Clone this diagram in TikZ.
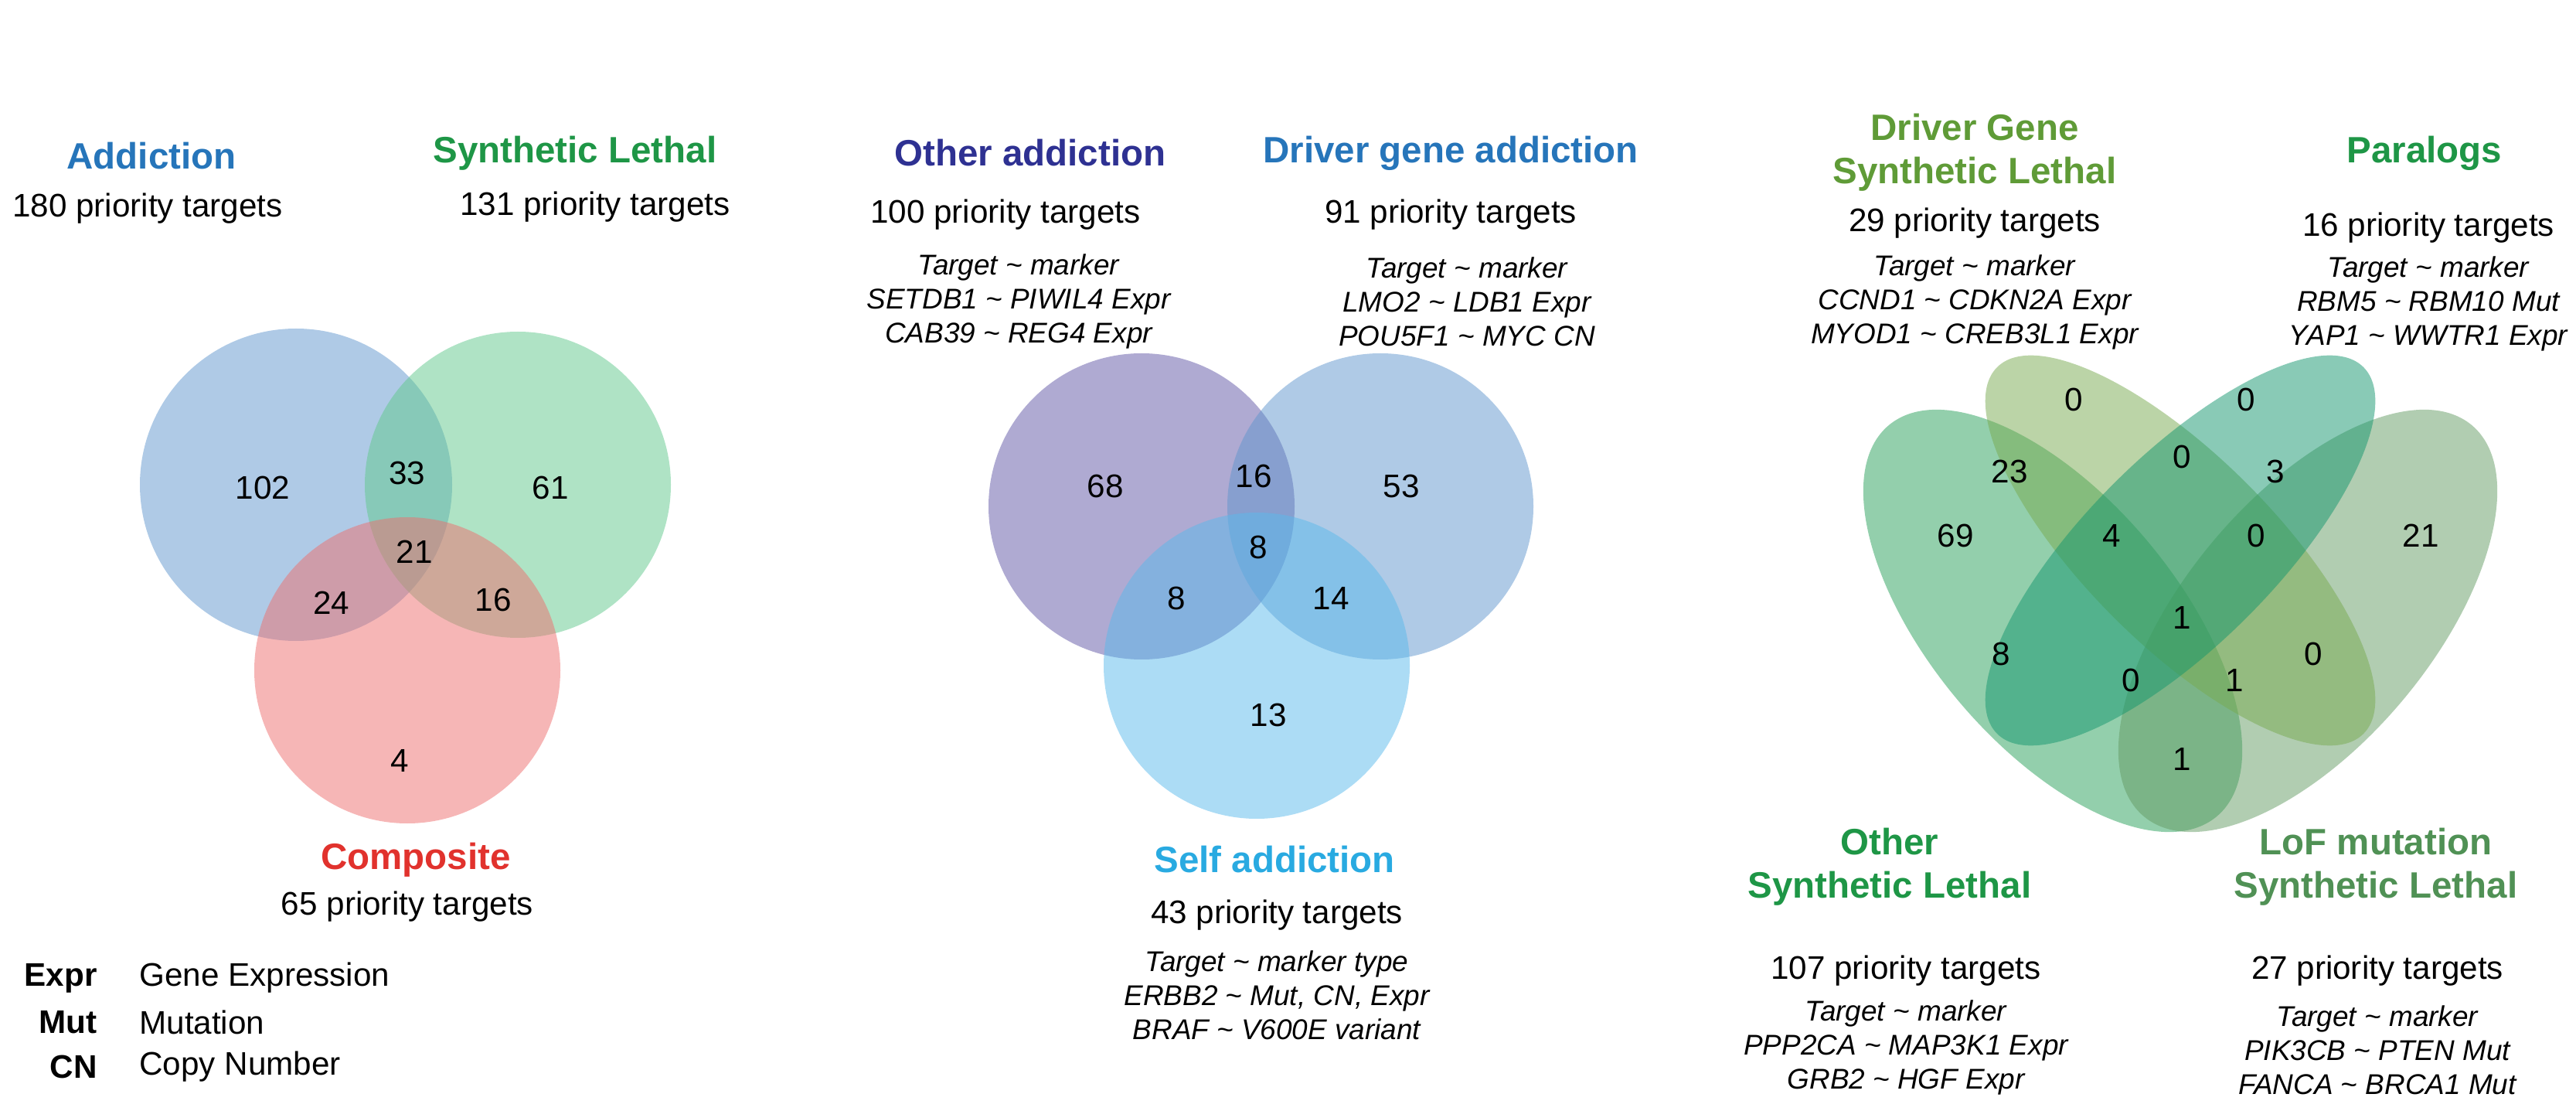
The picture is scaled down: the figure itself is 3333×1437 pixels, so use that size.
\documentclass[tikz,border=0pt]{standalone}
\usepackage{fontspec}
\setmainfont{Liberation Sans}
\usetikzlibrary{positioning}
\definecolor{addblue}{RGB}{38,117,186}
\definecolor{slgreen}{RGB}{30,150,70}
\definecolor{compred}{RGB}{225,50,45}
\definecolor{othpurple}{RGB}{46,49,146}
\definecolor{selfblue}{RGB}{41,170,225}
\definecolor{drvolive}{RGB}{95,155,55}
\definecolor{lofgreen}{RGB}{80,145,85}
\definecolor{setblue}{RGB}{95,150,205}
\definecolor{setgreen}{RGB}{95,200,140}
\definecolor{setred}{RGB}{238,110,110}
\definecolor{setpurple}{RGB}{95,85,165}
\definecolor{setsky}{RGB}{90,185,235}
\definecolor{setoth}{RGB}{40,160,90}
\definecolor{setdrv}{RGB}{120,170,80}
\definecolor{setpar}{RGB}{20,150,110}
\definecolor{setlof}{RGB}{100,155,100}

\begin{document}
\begin{tikzpicture}[
				x=0.01cm, y=-0.01cm,
				title/.style={font=\fontsize{13.5}{16}\selectfont\bfseries},
				count/.style={font=\fontsize{12}{14}\selectfont},
				num/.style={font=\fontsize{12}{14}\selectfont},
				pair/.style={font=\fontsize{10.5}{12.5}\selectfont\itshape, align=center},
				setfill/.style={fill=#1, fill opacity=0.5, draw=none},
			]
				\useasboundingbox (0,0) rectangle (3333,1437);

				% first venn
				\fill[setfill=setblue] (383,627) circle (202);
				\fill[setfill=setgreen] (670,627) circle (198);
				\fill[setfill=setred] (527,867) circle (198);
				\node (addT) [title, text=addblue] at (196,202) {Addiction};
				\node (addN) [count] at (191,270) {180 priority targets};
				\node (slT) [title, text=slgreen] at (744,198) {Synthetic Lethal};
				\node (slN) [count] at (770,268) {131 priority targets};
				\node (compT) [title, text=compred] at (538,1112) {Composite};
				\node (compN) [count] at (527,1173) {65 priority targets};
				\foreach \v/\x/\y in {102/340/631, 33/527/612, 61/712/631, 21/536/714, 24/429/780, 16/638/776, 4/517/984}
					\node[num] at (\x,\y) {\v};

				% legend
				\node (lgE) [count, font=\fontsize{12}{14}\selectfont\bfseries, anchor=east] at (138,1265) {Expr};
				\node (lgM) [count, font=\fontsize{12}{14}\selectfont\bfseries, anchor=east] at (138,1322) {Mut};
				\node (lgC) [count, font=\fontsize{12}{14}\selectfont\bfseries, anchor=east] at (138,1380) {CN};
				\node (lgEt) [count, anchor=west] at (168,1265) {Gene Expression};
				\node (lgMt) [count, anchor=west] at (168,1322) {Mutation};
				\node (lgCt) [count, anchor=west] at (168,1380) {Copy Number};

				% second venn
				\fill[setfill=setpurple] (1477,655) circle (198);
				\fill[setfill=setblue] (1786,655) circle (198);
				\fill[setfill=setsky] (1626,861) circle (198);
				\node (othT) [title, text=othpurple] at (1333,198) {Other addiction};
				\node (othN) [count] at (1301,278) {100 priority targets};
				\node (othP) [pair] at (1318,390) {Target \textasciitilde{} marker\\SETDB1 \textasciitilde{} PIWIL4 Expr\\CAB39 \textasciitilde{} REG4 Expr};
				\node (drvT) [title, text=addblue] at (1877,198) {Driver gene addiction};
				\node (drvN) [count] at (1877,278) {91 priority targets};
				\node (drvP) [pair] at (1898,390) {Target \textasciitilde{} marker\\LMO2 \textasciitilde{} LDB1 Expr\\POU5F1 \textasciitilde{} MYC CN};
				\node (selfT) [title, text=selfblue] at (1649,1112) {Self addiction};
				\node (selfN) [count] at (1652,1184) {43 priority targets};
				\node (selfP) [pair] at (1652,1287) {Target \textasciitilde{} marker type\\ERBB2 \textasciitilde{} Mut, CN, Expr\\BRAF \textasciitilde{} V600E variant};
				\foreach \v/\x/\y in {68/1430/629, 16/1622/616, 53/1813/629, 8/1628/708, 8/1522/774, 14/1722/774, 13/1641/925}
					\node[num] at (\x,\y) {\v};

				% third venn
				\fill[setfill=setoth] (2656,803) ellipse [x radius=3.30cm, y radius=1.60cm, rotate=-50];
				\fill[setfill=setlof] (2986,803) ellipse [x radius=3.30cm, y radius=1.60cm, rotate=50];
				\fill[setfill=setdrv] (2821,712) ellipse [x radius=3.35cm, y radius=1.22cm, rotate=-45];
				\fill[setfill=setpar] (2821,712) ellipse [x radius=3.35cm, y radius=1.22cm, rotate=45];
				\node (dslT) [title, text=drvolive, align=center] at (2555,197) {Driver Gene\\Synthetic Lethal};
				\node (dslN) [count] at (2555,289) {29 priority targets};
				\node (dslP) [pair] at (2555,391) {Target \textasciitilde{} marker\\CCND1 \textasciitilde{} CDKN2A Expr\\MYOD1 \textasciitilde{} CREB3L1 Expr};
				\node (parT) [title, text=slgreen] at (3137,198) {Paralogs};
				\node (parN) [count] at (3142,295) {16 priority targets};
				\node (parP) [pair] at (3142,393) {Target \textasciitilde{} marker\\RBM5 \textasciitilde{} RBM10 Mut\\YAP1 \textasciitilde{} WWTR1 Expr};
				\node (oslT) [title, text=slgreen, align=center] at (2445,1121) {Other\\Synthetic Lethal};
				\node (oslN) [count] at (2466,1256) {107 priority targets};
				\node (oslP) [pair] at (2466,1355) {Target \textasciitilde{} marker\\PPP2CA \textasciitilde{} MAP3K1 Expr\\GRB2 \textasciitilde{} HGF Expr};
				\node (lofT) [title, text=lofgreen, align=center] at (3074,1121) {LoF mutation\\Synthetic Lethal};
				\node (lofN) [count] at (3076,1256) {27 priority targets};
				\node (lofP) [pair] at (3076,1358) {Target \textasciitilde{} marker\\PIK3CB \textasciitilde{} PTEN Mut\\FANCA \textasciitilde{} BRCA1 Mut};
				\foreach \v/\x/\y in {0/2683/517, 0/2906/517, 23/2600/610, 0/2823/591, 3/2944/610, 69/2530/693, 4/2732/693, 0/2919/693, 21/3132/693, 1/2823/799, 8/2589/846, 0/2757/880, 1/2891/880, 0/2993/846, 1/2823/982}
					\node[num] at (\x,\y) {\v};
			\end{tikzpicture}
\end{document}
